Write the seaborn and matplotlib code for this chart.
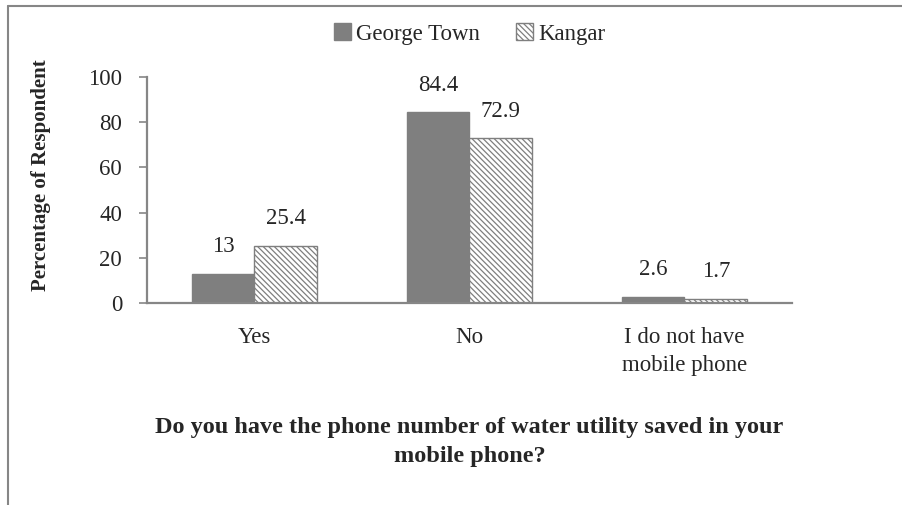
import numpy as np
import pandas as pd
import matplotlib.pyplot as plt
import seaborn as sns
from matplotlib.patches import Patch

categories = ['Yes', 'No', 'I do not have\nmobile phone']
george_town = [13, 84.4, 2.6]
kangar = [25.4, 72.9, 1.7]
labels_gt = ['13', '84.4', '2.6']
labels_kg = ['25.4', '72.9', '1.7']

df = pd.DataFrame({
    'category': categories * 2,
    'city': ['George Town'] * 3 + ['Kangar'] * 3,
    'value': george_town + kangar,
})

sns.set_theme(style='white')
plt.rcParams['font.family'] = ['Liberation Serif', 'DejaVu Serif']
plt.rcParams['hatch.color'] = '#7f7f7f'
plt.rcParams['hatch.linewidth'] = 0.9

fs = 16.5
fig = plt.figure(figsize=(9.03, 5.05), dpi=100)
ax = fig.add_axes([147/903, 1 - 303/505, 645/903, 226/505])

grey = '#7f7f7f'
axis_grey = '#868686'
hatch = '\\' * 6
sns.barplot(data=df, x='category', y='value', hue='city',
            palette=[grey, 'white'], width=0.586, ax=ax,
            edgecolor=grey, linewidth=1.0, saturation=1, legend=False)

# hatch the Kangar bars
for c in ax.containers[1]:
    c.set_hatch(hatch)
    c.set_edgecolor(grey)

ax.bar_label(ax.containers[0], labels=labels_gt, padding=12, fontsize=fs)
ax.bar_label(ax.containers[1], labels=labels_kg, padding=12, fontsize=fs)

ax.set_ylim(0, 100)
ax.set_xlim(-0.5, 2.5)
ax.set_yticks([0, 20, 40, 60, 80, 100])
ax.tick_params(axis='y', labelsize=fs, length=6, width=1.2, color=axis_grey,
               direction='out', left=True, pad=12)
ax.set_xticks([0, 1, 2])
ax.set_xticklabels(categories, fontsize=fs, linespacing=1.45)
ax.tick_params(axis='x', length=0, pad=17)
ax.set_xticks([-0.5, 0.5, 1.5, 2.5], minor=True)
ax.tick_params(axis='x', which='minor', length=6, width=1.2, color=axis_grey, direction='out')

for s in ['top', 'right']:
    ax.spines[s].set_visible(False)
for s in ['left', 'bottom']:
    ax.spines[s].set_color(axis_grey)
    ax.spines[s].set_linewidth(1.6)

ax.set_ylabel('Percentage of Respondent', fontsize=15, fontweight='bold')
ax.yaxis.set_label_coords(-(147 - 51) / 645, (303 - 175) / 226)
ax.set_xlabel('Do you have the phone number of water utility saved in your\nmobile phone?',
              fontsize=17.5, fontweight='bold', labelpad=30, linespacing=1.45)

handles = [Patch(facecolor=grey, edgecolor=grey),
           Patch(facecolor='white', edgecolor=grey, hatch=hatch)]
fig.legend(handles, ['George Town', 'Kangar'], loc='center', bbox_to_anchor=(469.5/903, 1 - 34/505),
           ncol=2, frameon=False, fontsize=fs, handlelength=0.75, handleheight=0.75,
           handletextpad=0.2, columnspacing=1.6)

# outer frame (top and left edges only visible)
fig.add_artist(plt.Line2D([8/903, 8/903], [0, 1 - 6/505], color=axis_grey, lw=1.5, transform=fig.transFigure))
fig.add_artist(plt.Line2D([8/903, 1], [1 - 6/505, 1 - 6/505], color=axis_grey, lw=1.5, transform=fig.transFigure))

fig.savefig('out.png', dpi=100)
